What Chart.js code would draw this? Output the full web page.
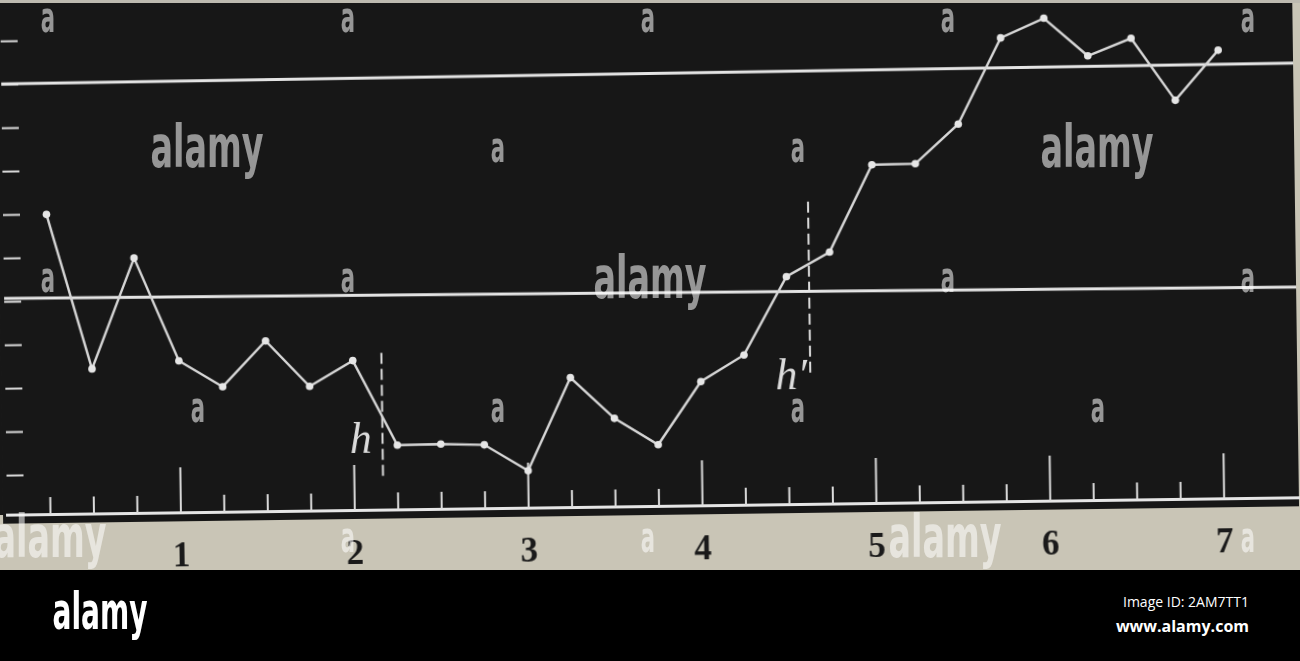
<!DOCTYPE html>
<html>
<head>
<meta charset="utf-8">
<script src="https://cdn.jsdelivr.net/npm/chart.js@4/dist/chart.umd.min.js"></script>
<style>
  body { margin: 0; background: #000; width: 1300px; height: 661px; overflow: hidden; position: relative; }
  #paper { position: absolute; left: 0; top: 0; width: 1300px; height: 570px; background: #c9c5b6; overflow: hidden; }
  #under { position: absolute; left: 0; top: 3px; width: 650px; height: 512px; background: #171717; }
  #chart { position: absolute; left: 0; top: 0; transform: rotate(-0.77deg); }
  #topEdge { position: absolute; left: 0; top: 0; width: 1300px; height: 3px; background: #bdbab0; }
  .wm { position: absolute; line-height: 1; white-space: nowrap; font-family: "Liberation Sans Narrow", "DejaVu Sans Condensed", sans-serif; font-weight: bold; color: rgba(255,255,255,0.55); transform-origin: 50% 50%; }
  .info { position: absolute; right: 51px; color: #fff; font-family: "Open Sans", "Noto Sans", sans-serif; white-space: nowrap; line-height: 1; }
</style>
</head>
<body>
<div id="paper">
  <div id="under"></div>
  <canvas id="chart" width="1300" height="570"></canvas>
  <div id="topEdge"></div>
</div>
<div class="info" style="top:595px;font-size:14px;">Image ID: 2AM7TT1</div>
<div class="info" style="top:618px;font-size:16px;font-weight:bold;">www.alamy.com</div>
<script>
// x positions of the readings (quarter steps) and the readings themselves
const steps = [0.25, 0.5, 0.75, 1, 1.25, 1.5, 1.75, 2, 2.25, 2.5, 2.75, 3, 3.25, 3.5,
  3.75, 4, 4.25, 4.5, 4.75, 5, 5.25, 5.5, 5.75, 6, 6.25, 6.5, 6.75, 7];
const readings = [7.0, 3.43, 5.97, 3.59, 2.98, 4.02, 2.96, 3.54, 1.58, 1.59, 1.56, 0.95,
  3.08, 2.13, 1.51, 2.95, 3.55, 5.34, 5.89, 7.89, 7.9, 8.8, 10.77, 11.21, 10.33, 10.72, 9.28, 10.42];
const axisLabels = ["1", "2", "3", "4", "5", "6", "7"];

// the two ruled levels, given at the left and right end of the sheet
const levelEnds = [0, 7.43];
const upperLevel = [10.02, 10.1];
const lowerLevel = [5.08, 4.94];

// dashed markers h and h'
const markerNames = ["h", "h\u2032"];
const markerX = [2.165, 4.63];
const markerFrom = [0.88, 3.12];
const markerTo = [3.78, 7.11];
const markerTextX = [2.04, 4.52];
const markerTextY = [1.67, 3.01];

const ink = "#dcdcdc";

const paperPlugin = {
  id: "paper",
  beforeDraw(chart) {
    const { ctx, chartArea } = chart;
    ctx.save();
    ctx.fillStyle = "#171717";
    ctx.fillRect(0, 0, chartArea.right, chartArea.bottom + 9);
    ctx.restore();
  },
  beforeDatasetsDraw(chart) {
    const { ctx, chartArea, scales } = chart;
    ctx.save();
    ctx.strokeStyle = ink;
    ctx.lineWidth = 2;
    // upward ticks on the base line
    scales.x.ticks.forEach(t => {
      const x = scales.x.getPixelForValue(t.value);
      const len = Number.isInteger(t.value) ? 45 : 17;
      ctx.beginPath();
      ctx.moveTo(x, chartArea.bottom);
      ctx.lineTo(x, chartArea.bottom - len);
      ctx.stroke();
    });
    // short ticks on the left edge
    scales.y.ticks.forEach(t => {
      const y = scales.y.getPixelForValue(t.value);
      ctx.beginPath();
      ctx.moveTo(chartArea.left, y);
      ctx.lineTo(chartArea.left + 17, y);
      ctx.stroke();
    });
    ctx.restore();
  },
  afterDatasetsDraw(chart) {
    const { ctx, scales } = chart;
    ctx.save();
    ctx.fillStyle = ink;
    ctx.font = "italic 44px 'Liberation Serif', serif";
    ctx.textAlign = "center";
    ctx.textBaseline = "middle";
    markerNames.forEach((name, i) => {
      ctx.fillText(name, scales.x.getPixelForValue(markerTextX[i]), scales.y.getPixelForValue(markerTextY[i]));
    });
    ctx.restore();
  }
};

const datasets = [{
  data: steps.map((s, i) => ({ x: s, y: readings[i] })),
  borderColor: "#d6d6d6",
  borderWidth: 2.4,
  pointRadius: 3.8,
  pointBackgroundColor: "#e6e6e6",
  pointBorderWidth: 0,
  tension: 0
}, {
  data: levelEnds.map((x, i) => ({ x: x, y: upperLevel[i] })),
  borderColor: "#e4e4e4",
  borderWidth: 3,
  pointRadius: 0
}, {
  data: levelEnds.map((x, i) => ({ x: x, y: lowerLevel[i] })),
  borderColor: "#e4e4e4",
  borderWidth: 3,
  pointRadius: 0
}];

markerX.forEach((x, i) => {
  datasets.push({
    data: [{ x: x, y: markerFrom[i] }, { x: x, y: markerTo[i] }],
    borderColor: ink,
    borderWidth: 2,
    borderDash: [11, 5],
    pointRadius: 0
  });
});

new Chart(document.getElementById("chart"), {
  type: "line",
  data: { datasets: datasets },
  options: {
    responsive: false,
    animation: false,
    layout: { padding: { left: 0, right: 3, top: 0, bottom: -25 } },
    plugins: { legend: { display: false }, tooltip: { enabled: false } },
    elements: { line: { fill: false } },
    scales: {
      x: {
        type: "linear",
        min: 0,
        max: 7.43,
        afterBuildTicks: axis => {
          axis.ticks = axis.ticks.filter(t => t.value > 0.01 && t.value < 7.01 &&
            Math.abs(t.value * 4 - Math.round(t.value * 4)) < 1e-6);
        },
        ticks: {
          stepSize: 0.25,
          autoSkip: false,
          maxRotation: 0,
          padding: 23.5,
          color: "#1a1a1a",
          font: { family: "'Liberation Serif', serif", size: 35, weight: "bold" },
          callback: v => Number.isInteger(v) ? axisLabels[v - 1] : ""
        },
        grid: { drawOnChartArea: false, drawTicks: false },
        border: { display: true, color: "#e6e6e6", width: 3 }
      },
      y: {
        type: "linear",
        display: false,
        min: 0.1,
        max: 11.66,
        afterBuildTicks: axis => {
          axis.ticks = axis.ticks.filter(t => Number.isInteger(t.value));
        },
        ticks: { stepSize: 1 }
      }
    }
  },
  plugins: [paperPlugin]
});

// stock watermark overlay
const paper = document.getElementById("paper");
const smallMarks = [[48, 22], [348, 22], [648, 22], [948, 22], [1248, 22],
  [498, 152], [798, 152],
  [48, 282], [348, 282], [948, 282], [1248, 282],
  [198, 412], [498, 412], [798, 412], [1098, 412],
  [348, 542], [648, 542], [1248, 542]];
const wordMarks = [[207, 152], [1097, 152], [650, 283], [50, 542], [945, 542]];

function stamp(parent, text, cx, cy, size, sx, color) {
  const d = document.createElement("div");
  d.className = "wm";
  d.textContent = text;
  d.style.fontSize = size + "px";
  d.style.left = cx + "px";
  d.style.top = (cy - 0.5865 * size) + "px";
  d.style.transform = "translateX(-50%) scaleX(" + sx + ")";
  if (color) d.style.color = color;
  parent.appendChild(d);
}
smallMarks.forEach(p => stamp(paper, "a", p[0], p[1], 42, 0.56));
wordMarks.forEach(p => stamp(paper, "alamy", p[0], p[1], 58, 0.64));
stamp(document.body, "alamy", 100, 615, 52, 0.6, "#fff");
</script>
</body>
</html>
